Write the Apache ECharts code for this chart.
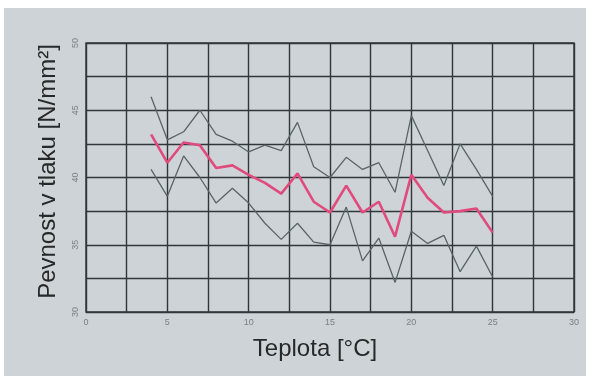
<!DOCTYPE html>
<html><head><meta charset="utf-8">
<script src="https://cdn.jsdelivr.net/npm/echarts@6/dist/echarts.min.js"></script>
<style>html,body{margin:0;padding:0;background:#fff;}#c{width:589px;height:379px;}</style>
</head><body><div id="c"></div>
<script>
var temps = [4,5,6,7,8,9,10,11,12,13,14,15,16,17,18,19,20,21,22,23,24,25];
var upper = [46.0,42.8,43.4,45.0,43.2,42.7,41.9,42.4,42.0,44.1,40.8,40.0,41.5,40.6,41.1,38.9,44.6,42.0,39.4,42.5,40.6,38.6];
var mean  = [43.2,41.1,42.6,42.4,40.7,40.9,40.2,39.6,38.8,40.3,38.2,37.4,39.4,37.4,38.2,35.6,40.2,38.5,37.4,37.5,37.7,35.9];
var lower = [40.6,38.6,41.6,40.0,38.1,39.2,38.1,36.6,35.4,36.6,35.2,35.0,37.8,33.8,35.5,32.2,36.0,35.1,35.7,33.0,34.9,32.6];
var xTicks = [0,5,10,15,20,25,30];
var yTicks = [30,35,40,45,50];

function pairs(ys){ return temps.map(function(t,i){ return [t, ys[i]]; }); }
var chart = echarts.init(document.getElementById('c'), null, {renderer:'canvas'});
var gridLine = {show:true, lineStyle:{color:'#30363a', width:1.4}};
chart.setOption({
  animation:false,
  backgroundColor:'#ffffff',
  graphic:[{type:'rect', z:-10, shape:{x:4,y:8,width:582,height:368}, style:{fill:'#cdd3d6'}}],
  grid:{left:86, right:15, top:43, bottom:67, show:true, borderColor:'#30363a', borderWidth:1.4, backgroundColor:'transparent'},
  xAxis:{type:'value', min:0, max:30, interval:2.5,
    name:'Teplota [°C]', nameLocation:'middle', nameGap:25,
    nameTextStyle:{fontFamily:'Liberation Sans', fontSize:24, color:'#26292b', padding:[0,30,0,0]},
    axisLine:{show:false}, axisTick:{show:false}, splitLine:gridLine,
    axisLabel:{fontFamily:'Liberation Sans', fontSize:9, color:'#7a8083', margin:6,
      formatter:function(v){ return xTicks.indexOf(v)>=0 ? String(v) : ''; }}},
  yAxis:{type:'value', min:30, max:50, interval:2.5,
    name:'Pevnost v tlaku [N/mm²]', nameLocation:'middle', nameGap:26, nameRotate:90,
    nameTextStyle:{fontFamily:'Liberation Sans', fontSize:24, color:'#26292b', padding:[0,0,0,12]},
    axisLine:{show:false}, axisTick:{show:false}, splitLine:gridLine,
    axisLabel:{fontFamily:'Liberation Sans', fontSize:9, color:'#7a8083', margin:6, rotate:90,
      formatter:function(v){ return yTicks.indexOf(v)>=0 ? String(v) : ''; }}},
  series:[
    {type:'line', data:pairs(upper), symbol:'none', lineStyle:{color:'#5b6366', width:1.3}},
    {type:'line', data:pairs(lower), symbol:'none', lineStyle:{color:'#5b6366', width:1.3}},
    {type:'line', data:pairs(mean), symbol:'none', z:5, lineStyle:{color:'#e04a7c', width:2.6}}
  ]
});
</script></body></html>
